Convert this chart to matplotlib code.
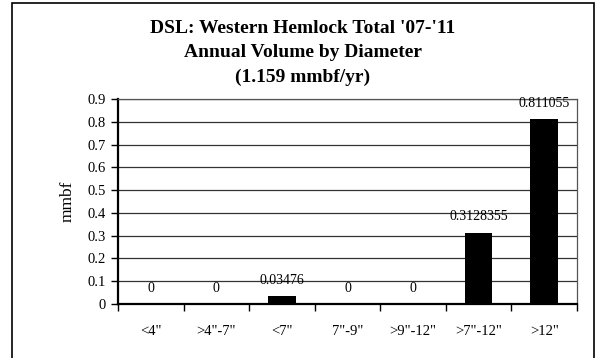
import numpy as np
import matplotlib
matplotlib.use("Agg")
import matplotlib.pyplot as plt
from matplotlib.patches import Rectangle

# data
categories = ['<4"', '>4"-7"', '<7"', '7"-9"', '>9"-12"', '>7"-12"', '>12"']
volumes = [0, 0, 0.03476, 0, 0, 0.3128355, 0.811055]
labels = ["0", "0", "0.03476", "0", "0", "0.3128355", "0.811055"]
yticks = [0, 0.1, 0.2, 0.3, 0.4, 0.5, 0.6, 0.7, 0.8, 0.9]
titleText = "DSL: Western Hemlock Total '07-'11\nAnnual Volume by Diameter\n(1.159 mmbf/yr)"

plt.rcParams['font.family'] = ['Liberation Serif', 'DejaVu Serif']

fig = plt.figure(figsize=(5.99, 3.58), dpi=100)
ax = fig.add_axes([118/599, 1-304/358, (577-118)/599, (304-99)/358])

# outer chart border
fig.patches.append(Rectangle((12/599, -0.01), (594-12)/599, 1-3/358+0.01,
                             transform=fig.transFigure, fill=False,
                             edgecolor='black', linewidth=1.2))

x = np.arange(len(categories))
ax.bar(x, volumes, width=0.42, color='black', zorder=3)

for xi, v, lab in zip(x, volumes, labels):
    ax.annotate(lab, xy=(xi, v), xytext=(0, 11.5), textcoords='offset points',
                ha='center', va='center', fontsize=10, zorder=4)

ax.set_xlim(-0.5, len(categories) - 0.5)
ax.set_ylim(0, 0.9)
ax.set_yticks(yticks)
ax.set_yticklabels(["0" if t == 0 else f"{t:.1f}" for t in yticks], fontsize=10.5)
ax.yaxis.grid(True, color='#333333', linewidth=0.9, zorder=0)

ax.set_xticks(x)
ax.set_xticklabels(categories, fontsize=10.5)
ax.set_xticks(np.arange(-0.5, len(categories)), minor=True)
ax.tick_params(axis='x', which='major', length=0, pad=15)
ax.tick_params(axis='x', which='minor', length=5, width=1, direction='out')
ax.tick_params(axis='y', length=5, width=1, direction='out', pad=4)

ax.spines['left'].set_linewidth(1.6)
ax.spines['bottom'].set_linewidth(1.6)
ax.spines['top'].set_color('#555555')
ax.spines['right'].set_color('#555555')
ax.spines['top'].set_linewidth(0.9)
ax.spines['right'].set_linewidth(0.9)

ax.set_ylabel("mmbf", fontsize=12.5, labelpad=8)

fig.text(0.5 * (12 + 594) / 599, 1 - 53/358, titleText, ha='center', va='center',
         fontsize=14, fontweight='bold', linespacing=1.55)

fig.savefig("out.png", dpi=100)
